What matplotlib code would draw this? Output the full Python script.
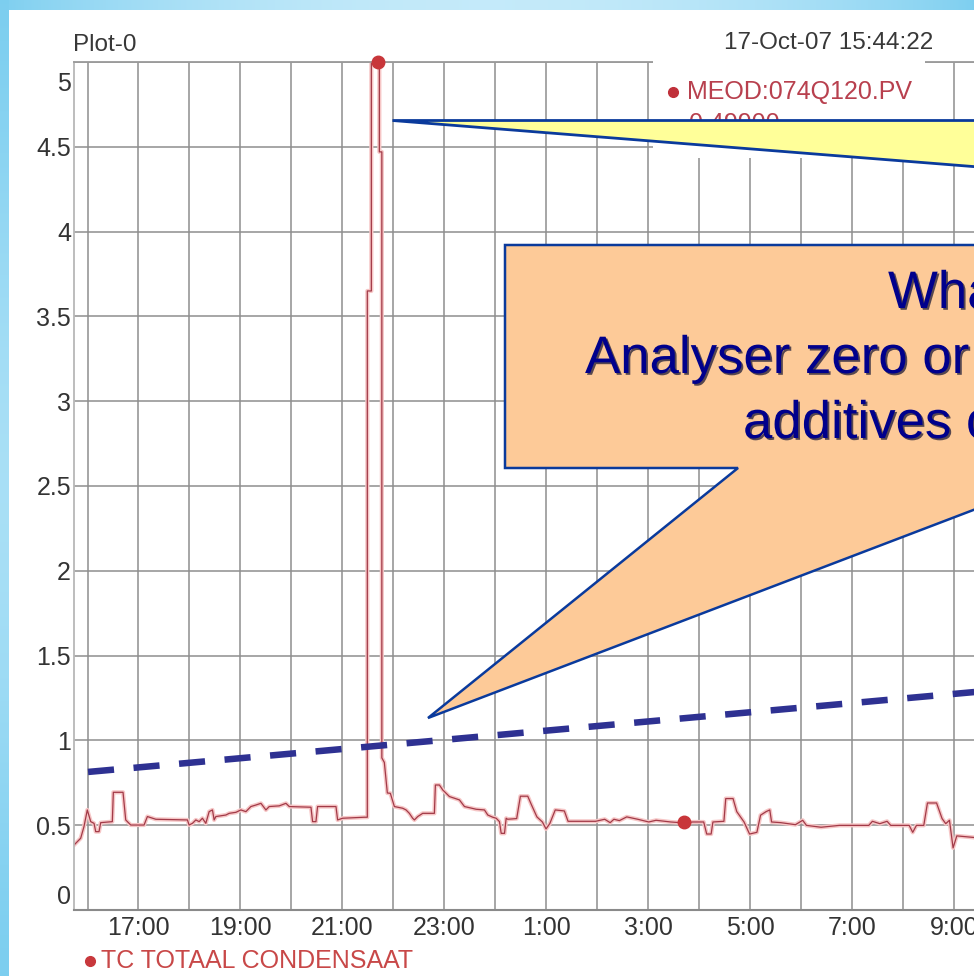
import numpy as np
import matplotlib
matplotlib.use("Agg")
import matplotlib.pyplot as plt
from matplotlib.patches import Polygon, Rectangle
from matplotlib.lines import Line2D
from matplotlib.transforms import ScaledTranslation
import matplotlib.patheffects as pe

plt.rcParams['font.family'] = ['Liberation Sans', 'DejaVu Sans']

# ---------------- data ----------------
plot_title = "Plot-0"
timestamp = "17-Oct-07 15:44:22"
series_bottom = "TC TOTAAL CONDENSAAT"
series_top = "MEOD:074Q120.PV"
series_top_value = "0.49900"
callout_lines = ["What", "Analyser zero or", "additives c"]

# time in hours since midnight of 16-Oct (values > 24 are 17-Oct)
trace_hours = [
    15.735, 15.866, 15.931, 15.996, 16.063, 16.128, 16.161, 16.226, 16.259, 16.487,
    16.507, 16.697, 16.750, 16.849, 17.110, 17.175, 17.340, 17.961, 17.994, 18.059,
    18.126, 18.191, 18.255, 18.322, 18.387, 18.452, 18.485, 18.519, 18.715, 18.780,
    18.912, 19.010, 19.108, 19.206, 19.305, 19.403, 19.501, 19.566, 19.762, 19.894,
    19.959, 20.385, 20.417, 20.483, 20.515, 20.876, 20.908, 21.006, 21.432,
    21.491, 21.491, 21.570, 21.570, 21.727, 21.727, 21.776, 21.776, 21.825, 21.884,
    21.943, 22.022, 22.185, 22.251, 22.316, 22.381, 22.415, 22.480, 22.578, 22.807,
    22.827, 22.906, 22.971, 23.102, 23.299, 23.397, 23.627, 23.790, 23.855, 23.953,
    24.020, 24.084, 24.118, 24.183, 24.216,
    24.244, 24.422, 24.495, 24.639, 24.711, 24.819, 24.927, 24.998, 25.071, 25.179,
    25.358, 25.430, 25.971, 26.149, 26.257, 26.330, 26.438, 26.582, 26.798, 27.014,
    27.157, 27.446, 27.719, 27.876, 28.092, 28.151, 28.238, 28.273, 28.489, 28.525,
    28.668, 28.741, 28.884, 28.992, 29.136, 29.208, 29.316, 29.389, 29.424, 29.605,
    29.892, 30.035, 30.108, 30.395, 30.756, 31.332, 31.403, 31.548, 31.691, 31.762,
    32.124, 32.194, 32.267, 32.411, 32.483, 32.662, 32.770, 32.842, 32.915, 32.986,
    33.059, 33.404, 33.700,
]
trace_values = [
    0.383, 0.423, 0.492, 0.590, 0.521, 0.511, 0.462, 0.462, 0.515, 0.521,
    0.694, 0.694, 0.531, 0.501, 0.501, 0.551, 0.535, 0.531, 0.501, 0.511,
    0.531, 0.521, 0.541, 0.511, 0.580, 0.590, 0.531, 0.551, 0.560, 0.570,
    0.576, 0.590, 0.580, 0.610, 0.619, 0.629, 0.590, 0.610, 0.614, 0.629,
    0.610, 0.606, 0.521, 0.521, 0.610, 0.610, 0.531, 0.541, 0.547,
    0.547, 3.650, 3.650, 5.150, 5.150, 4.470, 4.470, 0.897, 0.870, 0.690,
    0.688, 0.610, 0.600, 0.590, 0.570, 0.541, 0.531, 0.551, 0.570, 0.570,
    0.737, 0.737, 0.708, 0.669, 0.649, 0.610, 0.594, 0.590, 0.560, 0.547,
    0.541, 0.521, 0.452, 0.452, 0.541,
    0.535, 0.539, 0.671, 0.671, 0.621, 0.549, 0.519, 0.478, 0.509, 0.590,
    0.584, 0.523, 0.523, 0.535, 0.515, 0.535, 0.527, 0.549, 0.535, 0.519,
    0.529, 0.519, 0.513, 0.519, 0.519, 0.448, 0.448, 0.519, 0.523, 0.657,
    0.657, 0.580, 0.519, 0.448, 0.458, 0.559, 0.580, 0.590, 0.519, 0.515,
    0.503, 0.529, 0.499, 0.488, 0.499, 0.499, 0.523, 0.509, 0.523, 0.499,
    0.499, 0.458, 0.499, 0.499, 0.631, 0.631, 0.539, 0.509, 0.529, 0.366,
    0.437, 0.427, 0.430,
]
cursor_hours = [21.70, 27.705]
cursor_values = [5.0, 0.52]
trend_hours = [16.01, 33.40]
trend_values = [0.814, 1.285]

x_range = [15.735, 39.735]
y_range = [0, 5]
x_tick_hours = [17, 19, 21, 23, 25, 27, 29, 31, 33]
x_tick_labels = ["17:00", "19:00", "21:00", "23:00", "1:00", "3:00", "5:00",
                 "7:00", "9:00"]
x_minor_hours = [16, 18, 20, 22, 24, 26, 28, 30, 32, 34]
y_tick_values = [0, 0.5, 1, 1.5, 2, 2.5, 3, 3.5, 4, 4.5, 5]
y_tick_labels = ["0", "0.5", "1", "1.5", "2", "2.5", "3", "3.5", "4", "4.5", "5"]

# ---------------- layout helpers ----------------
W, H = 974, 976
fig = plt.figure(figsize=(W / 100, H / 100), dpi=100)


def fx(x):
    return x / W


def fy(y):
    return 1 - y / H


# slide background (light blue frame)
bg = np.ones((H, W, 3))
blue = np.array([0.49, 0.81, 0.94])
light = np.array([0.80, 0.93, 0.985])
t = np.linspace(0, 1, W)
f_top = np.sin(np.pi * t) ** 0.8
bg[:10, :, :] = blue + (light - blue) * f_top[None, :, None] * 0.9
s = np.linspace(0, 1, H)
f_left = 0.55 * np.sin(np.pi * s) ** 1.5
bg[:, :9, :] = blue + (light - blue) * f_left[:, None, None]
bg_ax = fig.add_axes([0, 0, 1, 1], zorder=-5)
bg_ax.imshow(bg, aspect='auto', extent=[0, 1, 0, 1], origin='upper')
bg_ax.axis('off')

# ---------------- main axes ----------------
ax_left, ax_right, ax_top, ax_bottom = 74, 1297, 62, 910
ax = fig.add_axes([fx(ax_left), fy(ax_bottom), (ax_right - ax_left) / W,
                   (ax_bottom - ax_top) / H])
ax.set_facecolor('white')
ax.set_xlim(*x_range)
ax.set_ylim(*y_range)
ax.set_axisbelow(True)

ax.set_xticks(x_tick_hours, x_tick_labels)
ax.set_xticks(x_minor_hours, minor=True)
ax.set_yticks(y_tick_values, y_tick_labels)
grid_kw = dict(color='#8e8e8e', linewidth=1.1)
ax.grid(True, which='both', axis='x', **grid_kw)
ax.grid(True, which='major', axis='y', **grid_kw)
ax.tick_params(axis='both', which='both', length=0, labelsize=18,
               labelcolor='#333333')
ax.tick_params(axis='x', pad=4)
ax.tick_params(axis='y', pad=2.2)

ax.spines['right'].set_visible(False)
ax.spines['left'].set_color('#b8b8b8')
ax.spines['left'].set_linewidth(1.3)
ax.spines['top'].set_color('#9a9a9a')
ax.spines['top'].set_linewidth(1.3)
ax.spines['bottom'].set_color('#8a8a8a')
ax.spines['bottom'].set_linewidth(1.5)

# trace: soft halo + thin dark line
ax.plot(trace_hours, trace_values, color='#f6c6c6', linewidth=3.0, zorder=2)
ax.plot(trace_hours, trace_values, color='#a23a48', linewidth=0.9, zorder=2.1)
ax.plot(cursor_hours, cursor_values, 'o', color='#c8363a', markersize=9,
        clip_on=False, zorder=4)

# dashed trend line
ax.plot(trend_hours, trend_values, color='#2e3192', linewidth=4.7,
        linestyle=(0, (4.0, 3.0)), dash_capstyle='butt', clip_on=False,
        zorder=6)

# shift end tick labels inward
yticks = ax.yaxis.get_major_ticks()
yticks[0].label1.set_transform(yticks[0].label1.get_transform()
                               + ScaledTranslation(0, 0.15, fig.dpi_scale_trans))
yticks[-1].label1.set_transform(yticks[-1].label1.get_transform()
                                + ScaledTranslation(0, -0.20, fig.dpi_scale_trans))

# ---------------- header / legend texts ----------------
fig.text(fx(73), fy(45), plot_title, ha='left', va='center', fontsize=17.5,
         color='#383838')
fig.text(fx(933), fy(43), timestamp, ha='right', va='center', fontsize=17.5,
         color='#383838')

# white legend box covering grid
fig.add_artist(Rectangle((fx(653), fy(158)), (925 - 653) / W, (158 - 55) / H,
                         transform=fig.transFigure, facecolor='white',
                         edgecolor='none', zorder=1))
fig.add_artist(Line2D([fx(673)], [fy(92)], marker='o', markersize=7,
                      color='#c0303a', transform=fig.transFigure, zorder=2))
fig.text(fx(687), fy(92), series_top, ha='left', va='center', fontsize=18,
         color='#b8404e', zorder=2)
fig.text(fx(689), fy(124), series_top_value, ha='left', va='center',
         fontsize=18, color='#b8404e', zorder=2)

fig.add_artist(Line2D([fx(90)], [fy(961)], marker='o', markersize=7,
                      color='#c8383c', transform=fig.transFigure, zorder=2))
fig.text(fx(101), fy(961), series_bottom, ha='left', va='center', fontsize=18,
         color='#c84848', zorder=2)

# ---------------- callouts ----------------
def pix_poly(pts):
    return [(fx(x), fy(y)) for x, y in pts]


yellow = Polygon(pix_poly([(392, 120), (1010, 120), (1010, 169)]),
                 closed=True, transform=fig.transFigure, facecolor='#ffff99',
                 edgecolor='#0a3a9c', linewidth=2.0, zorder=3)
fig.add_artist(yellow)

orange = Polygon(pix_poly([(505, 245), (1010, 245), (1010, 496), (428, 718),
                           (738, 468), (505, 468)]),
                 closed=True, transform=fig.transFigure, facecolor='#fdca98',
                 edgecolor='#0a3a9c', linewidth=1.8, zorder=3)
fig.add_artist(orange)

shadow = [pe.withSimplePatchShadow(offset=(1.3, -1.3), shadow_rgbFace='#101030',
                                   alpha=0.7)]
line_pos = [(888, 308), (585, 373), (743, 438)]
for txt, (x, y) in zip(callout_lines, line_pos):
    fig.text(fx(x), fy(y), txt, ha='left', va='baseline', fontsize=38,
             color='#00008c', zorder=4, path_effects=shadow)

fig.savefig('out.png', dpi=100)
